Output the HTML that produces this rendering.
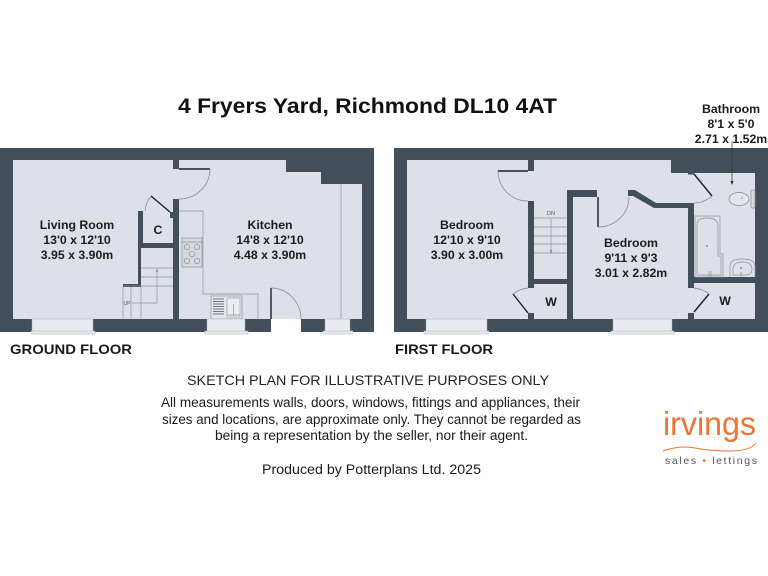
<!DOCTYPE html>
<html><head><meta charset="utf-8"><style>
html,body{margin:0;padding:0;background:#fff;width:768px;height:576px;overflow:hidden}
svg{display:block;filter:blur(.35px)}
text{font-family:"Liberation Sans",sans-serif}
.r{font-weight:bold;font-size:12.3px;fill:#1c1c1c;text-anchor:middle}
.w{fill:#434e5b}
.l{fill:none;stroke:#8b9099;stroke-width:.7}
.d{stroke:#1b2026;stroke-width:1.4;fill:none}
.a{fill:none;stroke:#7c818a;stroke-width:.7}
.win{fill:#e9ebf0;stroke:#a8adb5;stroke-width:.5}
.b{font-size:13.4px;fill:#1a1a1a}
</style></head><body>
<svg width="768" height="576" viewBox="0 0 768 576" xmlns="http://www.w3.org/2000/svg">
<rect width="768" height="576" fill="#fff"/>
<text x="178" y="113" font-size="21.5" font-weight="bold" fill="#111" textLength="379" lengthAdjust="spacingAndGlyphs">4 Fryers Yard, Richmond DL10 4AT</text>

<!-- Ground floor -->
<rect class="w" x="0" y="148" width="374" height="184"/>
<polygon fill="#dde0e8" points="13,160 286,160 286,172 321,172 321,184 362,184 362,319 13,319"/>
<g class="w">
<rect x="173" y="160" width="6" height="9"/>
<rect x="173" y="199" width="6" height="120"/>
<rect x="138" y="211" width="5" height="32"/>
<rect x="138" y="243" width="35" height="5"/>
<rect x="138" y="248" width="3" height="39"/>
<rect x="123" y="284" width="18" height="3"/>
<rect x="170" y="212" width="3" height="6"/>
</g>
<!-- stairs ground -->
<path class="l" d="M141 268H173M141 277H173M123 286H173M123 287V319M131 287V319M141 287V319"/>
<path class="l" d="M157 270V303H132"/>
<path class="l" d="M156 272l1-3 1 3"/>
<text x="127" y="305" font-size="5" fill="#555" text-anchor="middle">UP</text>
<!-- closet door -->
<path class="d" d="M151 196L170 212"/>
<path class="a" d="M151 196Q146 202 145 211"/>
<!-- kitchen door -->
<path class="d" d="M179 169H210"/>
<path class="a" d="M210 169A31 30 0 0 1 179 199"/>
<!-- worktop -->
<path class="l" d="M179 211H203V294H258V319"/>
<rect x="182" y="238" width="20" height="29" fill="#d6d9e0" stroke="#8b9099" stroke-width=".7"/>
<path class="l" d="M182 242H202"/>
<g class="l"><circle cx="187" cy="247" r="2.7"/><circle cx="197" cy="247" r="2.7"/><circle cx="192" cy="254" r="2.7"/><circle cx="187" cy="261" r="2.7"/><circle cx="197" cy="261" r="2.7"/></g>
<!-- sink -->
<rect x="211" y="296" width="31" height="23" fill="#e4e6ec" stroke="#8b9099" stroke-width=".7"/>
<path d="M213 299H224M213 301.500H224M213 304H224M213 306.500H224M213 309H224M213 311.500H224M213 314H224" stroke="#70757e" stroke-width="1" fill="none"/>
<rect x="227" y="298" width="13" height="19" fill="#eceef2" stroke="#8b9099" stroke-width=".6"/>
<path class="l" d="M233.500 304V315M228 315H240"/>
<!-- right line -->
<path class="l" d="M341 184V319"/>
<!-- external door -->
<rect x="271" y="319" width="30" height="14" fill="#fff"/>
<path class="d" d="M271 288V319"/>
<path class="a" d="M271 288A30 31 0 0 1 301 319"/>
<!-- windows ground -->
<rect class="win" x="32" y="319" width="61" height="13"/>
<rect class="win" x="31" y="331" width="64" height="3"/>
<rect class="win" x="207" y="319" width="38" height="13"/>
<rect class="win" x="205" y="331" width="43" height="3"/>
<rect class="win" x="325" y="319" width="25" height="13"/>
<rect class="win" x="323" y="331" width="30" height="3"/>

<!-- First floor -->
<rect class="w" x="394" y="148" width="374" height="184"/>
<polygon fill="#dde0e8" points="407,160 671,160 671,173 755,173 755,319 407,319"/>
<g class="w">
<rect x="528" y="160" width="6" height="11"/>
<rect x="528" y="201" width="6" height="87"/>
<rect x="528" y="313" width="6" height="6"/>
<rect x="534" y="279" width="33" height="5"/>
<rect x="567" y="190" width="6" height="129"/>
<rect x="567" y="190" width="30" height="7"/>
<polygon points="628,190 635,190 656,203 694,203 694,208 694,288 688,288 688,208 654,208 633,196 628,196"/>
<rect x="688" y="313" width="6" height="6"/>
<rect x="694" y="277" width="61" height="6"/>
<rect x="688" y="173" width="6" height="1.500"/>
</g>
<path class="l" d="M534 218H567M534 227H567M534 236H567M534 244H567M534 253H567M551 218V253M550 250l1 3 1-3"/>
<text x="551" y="215" font-size="5.500" fill="#555" text-anchor="middle">DN</text>
<path class="d" d="M498 171H528"/>
<path class="a" d="M498 171A30 30 0 0 0 528 201"/>
<path class="d" d="M513 294L528 313"/>
<path class="a" d="M513 294Q519 289 528 288"/>
<path class="d" d="M598 197V227"/>
<path class="a" d="M598 227A31 30 0 0 0 629 197"/>
<path class="d" d="M694 174L712 196"/>
<path class="a" d="M712 196Q704 203 694 203"/>
<path class="d" d="M694 312L709 294"/>
<path class="a" d="M709 294Q703 289 694 288"/>
<!-- bath -->
<path class="l" d="M695 277V216H720V254H723V277Z"/>
<path class="l" d="M697 275V224Q697 218 707 218Q718 218 718 226V256H721V275Z"/>
<circle cx="707" cy="246" r="1" fill="#888"/>
<path class="l" d="M709 277V271M711 277V271"/>
<!-- basin -->
<path class="l" d="M730 277V265Q731 259 742 259Q754 259 755 265V277"/>
<path class="l" d="M733 275V268Q734 262 742 262Q752 262 752 269Q752 275 745 275Z"/>
<circle cx="741" cy="268" r="1" fill="#888"/>
<path class="l" d="M741 277V272"/>
<!-- toilet -->
<ellipse cx="739" cy="199" rx="10" ry="6.500" fill="#e4e6ec" stroke="#81868f" stroke-width=".7"/>
<rect x="751" y="190" width="4" height="18" rx="1" fill="#d6d9e0" stroke="#8b9099" stroke-width=".7"/>
<circle cx="742" cy="198" r=".8" fill="#888"/>
<!-- windows first -->
<rect class="win" x="426" y="319" width="61" height="13"/>
<rect class="win" x="424" y="331" width="65" height="3"/>
<rect class="win" x="613" y="319" width="59" height="13"/>
<rect class="win" x="611" y="331" width="63" height="3"/>

<!-- bathroom arrow -->
<path d="M732 141V183" stroke="#333" stroke-width=".7" fill="none"/>
<path d="M730.500 181H733.500L732 185Z" fill="#222"/>

<!-- labels -->
<g class="r">
<text x="77" y="229">Living Room</text><text x="77" y="244">13'0 x 12'10</text><text x="77" y="259">3.95 x 3.90m</text>
<text x="270" y="229">Kitchen</text><text x="270" y="244">14'8 x 12'10</text><text x="270" y="259">4.48 x 3.90m</text>
<text x="467" y="229">Bedroom</text><text x="467" y="244">12'10 x 9'10</text><text x="467" y="259">3.90 x 3.00m</text>
<text x="631" y="247">Bedroom</text><text x="631" y="262">9'11 x 9'3</text><text x="631" y="277">3.01 x 2.82m</text>
<text x="731" y="113">Bathroom</text><text x="731" y="128">8'1 x 5'0</text><text x="731" y="143">2.71 x 1.52m</text>
<text x="158" y="234">C</text><text x="551" y="306">W</text><text x="725" y="305">W</text>
</g>

<text x="10" y="354" font-size="14" font-weight="bold" fill="#1a1a1a" textLength="122" lengthAdjust="spacingAndGlyphs">GROUND FLOOR</text>
<text x="395" y="354" font-size="14" font-weight="bold" fill="#1a1a1a" textLength="98" lengthAdjust="spacingAndGlyphs">FIRST FLOOR</text>

<text x="187" y="385" font-size="13.500" fill="#222" textLength="362" lengthAdjust="spacingAndGlyphs">SKETCH PLAN FOR ILLUSTRATIVE PURPOSES ONLY</text>
<text class="b" x="161" y="407" textLength="419" lengthAdjust="spacingAndGlyphs">All measurements walls, doors, windows, fittings and appliances, their</text>
<text class="b" x="162" y="424" textLength="419" lengthAdjust="spacingAndGlyphs">sizes and locations, are approximate only. They cannot be regarded as</text>
<text class="b" x="215" y="440" textLength="313" lengthAdjust="spacingAndGlyphs">being a representation by the seller, nor their agent.</text>
<text class="b" x="262" y="474" textLength="219" lengthAdjust="spacingAndGlyphs">Produced by Potterplans Ltd. 2025</text>

<!-- logo -->
<text x="663" y="435" font-size="33" fill="#ee7335" textLength="93" lengthAdjust="spacingAndGlyphs">irvings</text>
<path d="M663 451Q680 445 695 448T730 451T756 443" fill="none" stroke="#ee7335" stroke-width="1"/>
<text x="665" y="464" font-size="10.500" fill="#555" textLength="92" lengthAdjust="spacing">sales <tspan fill="#ee7335">•</tspan> lettings</text>
</svg>
</body></html>
